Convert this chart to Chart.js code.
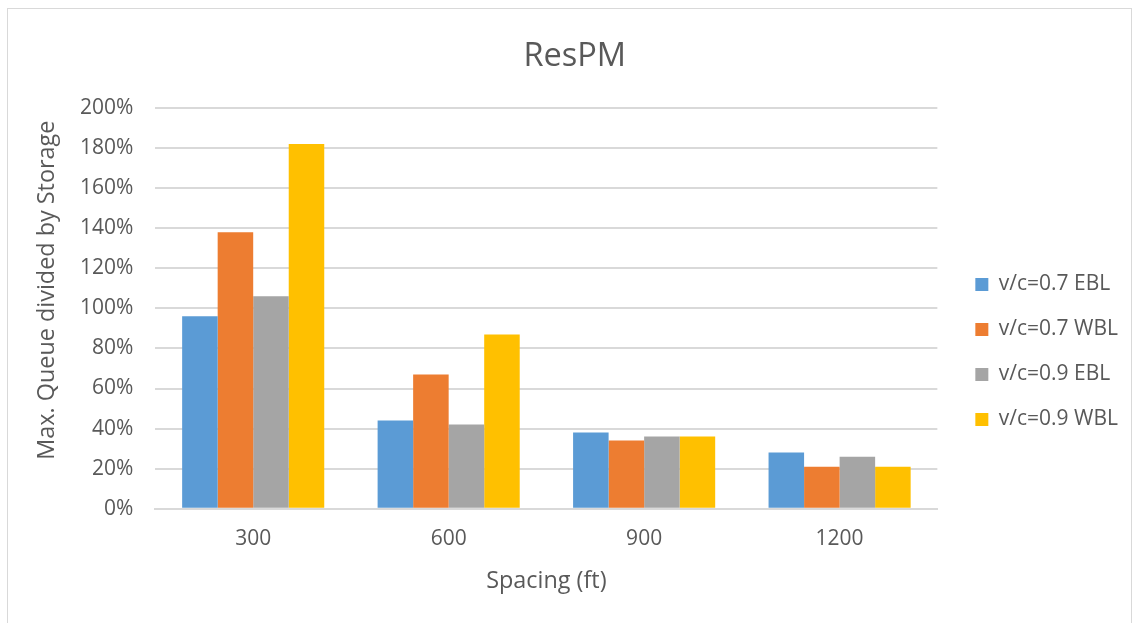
<!DOCTYPE html>
<html>
<head>
<meta charset="utf-8">
<script src="https://cdn.jsdelivr.net/npm/chart.js@4.4.1/dist/chart.umd.min.js"></script>
<style>
  body { margin: 0; background: #fff; overflow: hidden; }
  #frame {
    position: absolute; left: 7px; top: 8px;
    width: 1125px; height: 640px;
    border: 1px solid #d9d9d9; box-sizing: border-box;
  }
  #wrap { position: absolute; left: 0; top: 0; width: 1123px; height: 614px; }
</style>
</head>
<body>
<div id="frame"><div id="wrap"><canvas id="chart"></canvas></div></div>
<script>
// spacing categories (ft)
var spacings = ['300', '600', '900', '1200'];

// max queue / storage, in percent
var vc07EBL = [96, 44, 38, 28];
var vc07WBL = [138, 67, 34, 21];
var vc09EBL = [106, 42, 36, 26];
var vc09WBL = [182, 87, 36, 21];

var seriesNames = ['v/c=0.7 EBL', 'v/c=0.7 WBL', 'v/c=0.9 EBL', 'v/c=0.9 WBL'];
var seriesColors = ['#5B9BD5', '#ED7D31', '#A5A5A5', '#FFC000'];

var textColor = '#595959';
var fontName = "'Open Sans', sans-serif";

var ctx = document.getElementById('chart').getContext('2d');

var allSeries = [vc07EBL, vc07WBL, vc09EBL, vc09WBL];
var datasets = [];
for (let i = 0; i < allSeries.length; i++) {
    datasets.push({
        label: seriesNames[i],
        data: allSeries[i],
        backgroundColor: seriesColors[i],
        borderWidth: 0
    });
}

var myChart = new Chart(ctx, {
    type: 'bar',
    data: {
        labels: spacings,
        datasets: datasets
    },
    options: {
        responsive: true,
        maintainAspectRatio: false,
        animation: false,
        layout: {
            padding: {left: 5, right: 3, top: 10, bottom: 28}
        },
        datasets: {
            bar: {
                categoryPercentage: 0.727,
                barPercentage: 1.0
            }
        },
        plugins: {
            title: {
                display: true,
                // leading space moves it a little right, as in the original
                text: ' ResPM',
                color: textColor,
                font: {family: fontName, size: 32.5, weight: 'normal'},
                padding: {top: 18, bottom: 32}
            },
            legend: {
                position: 'right',
                // empty title only pushes the items down a bit
                title: {
                    display: true,
                    text: '',
                    font: {family: fontName, size: 20},
                    padding: {top: 0, bottom: 66}
                },
                labels: {
                    color: textColor,
                    font: {family: fontName, size: 21},
                    boxWidth: 13,
                    boxHeight: 13,
                    padding: 24
                }
            },
            tooltip: {enabled: false}
        },
        scales: {
            x: {
                grid: {display: false, drawTicks: false},
                border: {display: true, color: '#d9d9d9', width: 2},
                ticks: {
                    color: textColor,
                    font: {family: fontName, size: 21},
                    padding: 18
                },
                title: {
                    display: true,
                    text: 'Spacing (ft)',
                    color: textColor,
                    font: {family: fontName, size: 23.4},
                    padding: {top: -3, bottom: 0}
                }
            },
            y: {
                min: 0,
                max: 200,
                grid: {color: '#d9d9d9', lineWidth: 2, drawTicks: false},
                border: {display: false},
                ticks: {
                    stepSize: 20,
                    color: textColor,
                    font: {family: fontName, size: 21},
                    padding: 22,
                    callback: function (value) {
                        return value + '%';
                    }
                },
                title: {
                    display: true,
                    // leading spaces nudge the title up like in the original
                    text: '      Max. Queue divided by Storage',
                    color: textColor,
                    font: {family: fontName, size: 23.4},
                    padding: {top: 20, bottom: -3}
                }
            },
            // empty gap between plot and legend
            gap: {
                position: 'right',
                min: 0,
                max: 200,
                grid: {display: false, drawTicks: false},
                border: {display: false},
                ticks: {display: false},
                afterFit: function (scale) {
                    scale.width = 14;
                }
            }
        }
    }
});
</script>
</body>
</html>
